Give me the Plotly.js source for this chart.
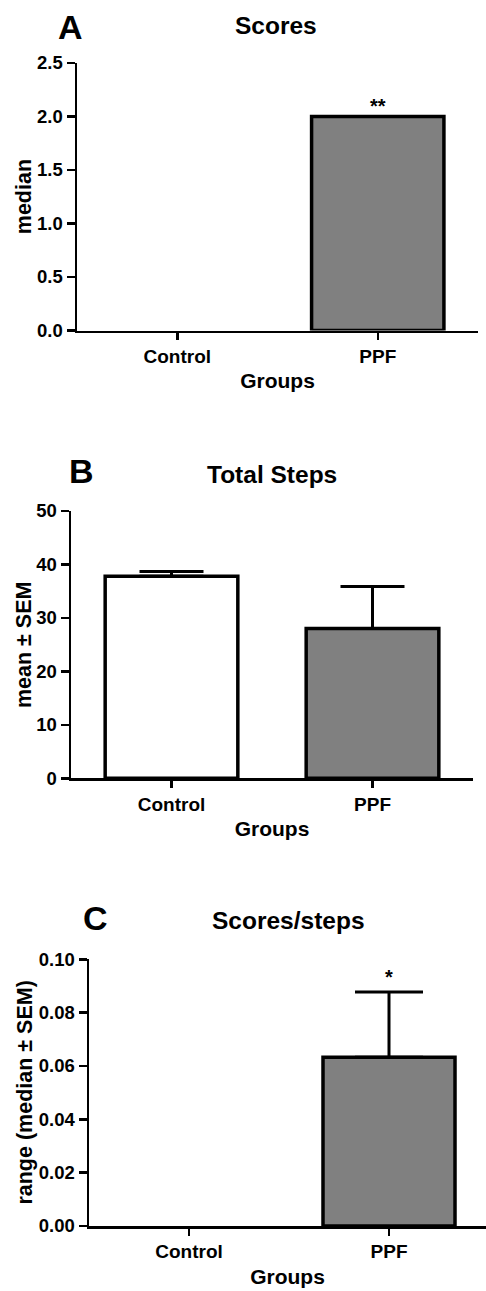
<!DOCTYPE html>
<html>
<head>
<meta charset="utf-8">
<script src="https://cdn.plot.ly/plotly-3.0.1.min.js"></script>
<style>html,body{margin:0;padding:0;background:#fff;}#chart{width:486px;height:1291px;}</style>
</head>
<body>
<div id="chart"></div>
<script>
// ---- data ----
const groups = ["Control", "PPF"];
const scoresMedian = [0, 2.0];
const stepsMean = [37.8, 28.0];
const stepsSEM = [0.9, 7.9];
const ratioMedian = [0, 0.0633];
const ratioSEM = [NaN, 0.0244];
const barColorsA = ["#ffffff", "#808080"];
const barColorsB = ["#ffffff", "#808080"];
const barColorsC = ["#ffffff", "#808080"];
const ticksA = [0, 0.5, 1.0, 1.5, 2.0, 2.5];
const ticksB = [0, 10, 20, 30, 40, 50];
const ticksC = [0, 0.02, 0.04, 0.06, 0.08, 0.10];
const yTitles = ["median", "mean ± SEM", "range (median ± SEM)"];
const panelTitles = ["Scores", "Total Steps", "Scores/steps"];
const panelLetters = ["A", "B", "C"];

const W = 486, H = 1291;
const px = v => v / W;
const py = v => 1 - v / H;
const FONT = "Liberation Sans, Arial, Helvetica, sans-serif";

function lineW(vals) { return vals.map(v => v === 0 ? 0 : 3.5); }

const traces = [
  {
    type: "bar", x: groups, y: scoresMedian, xaxis: "x", yaxis: "y",
    width: 0.66,
    marker: { color: barColorsA, line: { color: "#000", width: lineW(scoresMedian) } }
  },
  {
    type: "bar", x: groups, y: stepsMean, xaxis: "x2", yaxis: "y2",
    width: 0.66,
    marker: { color: barColorsB, line: { color: "#000", width: 3.5 } },
    error_y: { type: "data", symmetric: false, array: stepsSEM, arrayminus: [0, 0], color: "#000", thickness: 3, width: 32 }
  },
  {
    type: "bar", x: groups, y: ratioMedian, xaxis: "x3", yaxis: "y3",
    width: 0.66,
    marker: { color: barColorsC, line: { color: "#000", width: lineW(ratioMedian) } },
    error_y: { type: "data", symmetric: false, array: ratioSEM, arrayminus: [NaN, 0], color: "#000", thickness: 3, width: 34 }
  }
];

function xAxis(domain, range, anchor) {
  return {
    domain: domain, range: range, anchor: anchor,
    showline: true, linecolor: "#000", linewidth: 2.5,
    ticks: "outside", ticklen: 7, tickwidth: 2.5, tickcolor: "#000",
    tickfont: { family: FONT, size: 19, color: "#000", weight: "bold" },
    showgrid: false, zeroline: false, automargin: false, fixedrange: true,
    title: { text: "Groups", font: { family: FONT, size: 21, color: "#000", weight: "bold" }, standoff: 8 }
  };
}
function yAxis(domain, range, anchor, tickvals, fmt) {
  return {
    domain: domain, range: range, anchor: anchor,
    showline: true, linecolor: "#000", linewidth: 2.5,
    ticks: "outside", ticklen: 8, tickwidth: 2.5, tickcolor: "#000",
    tickmode: "array", tickvals: tickvals, tickformat: fmt,
    tickfont: { family: FONT, size: 18.5, color: "#000", weight: "bold" },
    showgrid: false, zeroline: false, automargin: false, fixedrange: true
  };
}

function txt(text, x, y, size, extra) {
  return Object.assign({
    text: text, xref: "paper", yref: "paper", x: x, y: y,
    xanchor: "center", yanchor: "middle", showarrow: false,
    font: { family: FONT, size: size, color: "#000", weight: "bold" }
  }, extra || {});
}

const layout = {
  width: W, height: H,
  margin: { l: 0, r: 0, t: 0, b: 0 },
  paper_bgcolor: "#fff", plot_bgcolor: "rgba(0,0,0,0)",
  showlegend: false,
  font: { family: FONT, color: "#000" },
  xaxis: xAxis([px(77), px(478)], [-0.5, 1.5], "y"),
  yaxis: yAxis([py(330.5), py(63)], [0, 2.5], "x", ticksA, ".1f"),
  xaxis2: xAxis([px(71), px(473)], [-0.5, 1.5], "y2"),
  yaxis2: yAxis([py(778.3), py(511)], [0, 50], "x2", ticksB, "d"),
  xaxis3: xAxis([px(89), 1], [-0.5, 1.485], "y3"),
  yaxis3: yAxis([py(1226), py(959.3)], [0, 0.1], "x3", ticksC, ".2f"),
  annotations: [
    txt(panelLetters[0], px(70), py(27), 34),
    txt(panelTitles[0], px(276), py(25), 24.5),
    txt(yTitles[0], px(23.5), py(196.7), 21.5, { textangle: -90 }),
    txt("**", 1, py(106), 20, { xref: "x" }),
    txt(panelLetters[1], px(81), py(471), 34),
    txt(panelTitles[1], px(272), py(474), 24.5),
    txt(yTitles[1], px(23.5), py(644.6), 21.5, { textangle: -90 }),
    txt(panelLetters[2], px(95), py(918), 34),
    txt(panelTitles[2], px(288), py(921), 24.5),
    txt(yTitles[2], px(25), py(1092.6), 21.5, { textangle: -90 }),
    txt("*", 1, py(977), 20, { xref: "x3" })
  ]
};

Plotly.newPlot("chart", traces, layout, { staticPlot: true, displayModeBar: false });
</script>
</body>
</html>
